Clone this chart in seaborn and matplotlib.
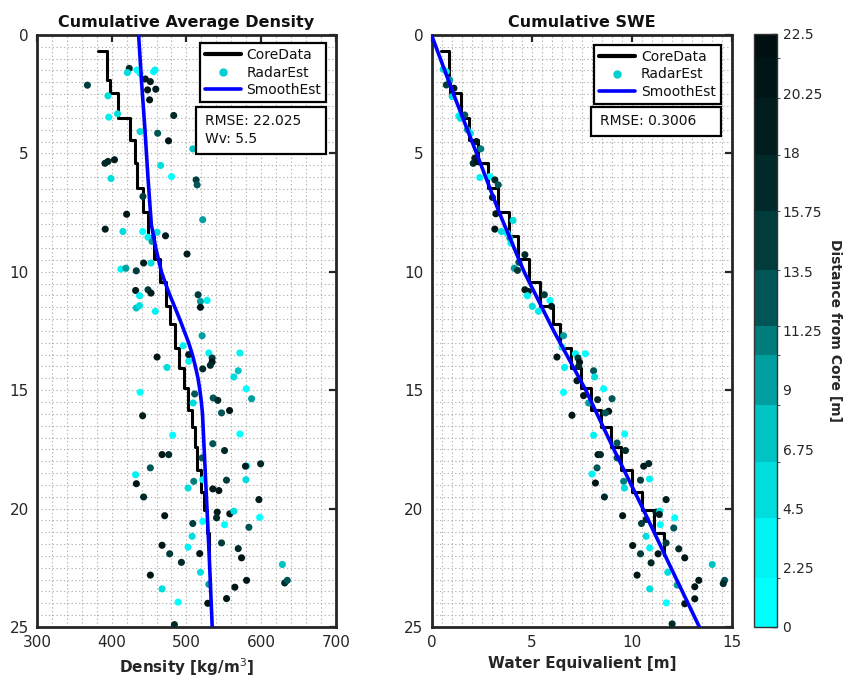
import matplotlib
matplotlib.use('Agg')
import matplotlib.pyplot as plt
import numpy as np
import seaborn as sns
from matplotlib.colors import ListedColormap, BoundaryNorm
from matplotlib.cm import ScalarMappable
from matplotlib.lines import Line2D
from matplotlib.patches import Rectangle
from matplotlib.ticker import MultipleLocator

# core samples: depth of each step and the value held below it (first entry = starting value)
core_depth = [0.66, 1.9, 2.43, 3.52, 4.43, 5.42, 6.47, 7.49, 8.5, 9.47, 10.42, 11.44,
              12.2, 13.2, 14.08, 14.92, 15.84, 16.54, 17.39, 18.37, 19.29, 20.06, 21.04, 21.96]
core_density = [382, 394, 398, 408, 424, 431, 434, 442, 449, 457, 465, 472,
                 478, 485, 490, 497, 502, 507, 511, 514, 519, 523, 527, 530]
core_swe = [0.45, 0.87, 0.9, 1.45, 1.88, 2.3, 2.8, 3.3, 3.86, 4.33, 4.85, 5.42,
            6.05, 6.43, 6.95, 7.45, 7.95, 8.45, 8.95, 9.45, 10.03, 10.53, 11.12, 11.62]

# smoothed estimates
smooth_depth_l = [0, 2, 4, 6, 8, 9, 10, 10.5, 11, 11.5, 12, 12.5, 13, 13.5, 14, 14.5,
                  15, 15.5, 16, 17, 18, 19, 20, 22, 25]
smooth_density = [436, 440, 444.5, 448.5, 453, 459, 466.5, 472, 478, 484.5, 491, 497,
                  503, 508, 512, 515.5, 518, 520, 521.5, 523, 524.5, 526, 527.5, 530.5, 534.5]
smooth_depth_r = [0, 2.5, 5, 7.5, 10, 12.5, 15, 17.5, 20, 22.5, 25]
smooth_swe = [0, 1.1, 2.25, 3.38, 4.62, 6.1, 7.7, 9.1, 10.55, 11.95, 13.37]

# radar estimates, left panel (density)
radar_density = [423.5, 421, 433.8, 438, 445, 451.7, 456, 458, 367.5, 448, 459, 450.7, 395, 407.8,
                 396, 483, 438, 461.5, 476, 508.5, 391, 395, 403.7, 465.5, 399, 480, 513, 514.3,
                 441.8, 521.8, 420, 391.3, 415, 441.4, 460.7, 448.6, 454, 472, 500.8, 442.7, 452.6,
                 412.3, 419, 432.9, 432, 437.3, 448.6, 452.6, 515.6, 518.7, 527.7, 518.7, 432.9,
                 437.3, 458.4, 521, 495.5, 460.7, 503, 503, 474, 530, 534.4, 534.4, 532, 521.8,
                 571.5, 569.3, 563.5, 580, 587.2, 438, 511, 509, 535.8, 542, 547, 557.7, 441.4,
                 481.6, 571.5, 535.3, 551, 467.4, 476.3, 521, 451.7, 581, 579, 599.3, 432, 433,
                 509.8, 521.8, 553.6, 579.6, 502.2, 535.3, 543.4, 442.7, 597, 470.9, 541.2, 558,
                 563.5, 540.3, 508.5, 521.8, 551, 598, 583.6, 507.6, 467.4, 547, 502.2, 569.3,
                 477.6, 517.8, 573.8, 493.3, 628.4, 451.7, 518.8, 580.5, 631.5, 635, 530, 467.4,
                 564.8, 553.7, 488.8, 528.6, 483.9]
radar_depth_l = [1.41, 1.59, 1.48, 1.62, 1.86, 1.97, 1.55, 1.48, 2.12, 2.32, 2.29, 2.74, 2.57, 3.33,
                 3.47, 3.40, 4.08, 4.15, 4.47, 4.81, 5.42, 5.34, 5.27, 5.51, 6.06, 5.98, 6.12, 6.33,
                 6.82, 7.80, 7.57, 8.2, 8.3, 8.3, 8.33, 8.54, 8.72, 8.48, 9.25, 9.63, 9.63,
                 9.89, 9.85, 9.96, 10.79, 11.01, 10.76, 10.9, 10.97, 11.25, 11.21, 11.5, 11.53,
                 11.43, 11.67, 12.7, 13.12, 13.6, 13.5, 13.78, 14.04, 13.43, 13.64, 13.81, 13.95, 14.1,
                 13.43, 14.18, 14.44, 14.94, 15.36, 15.09, 15.16, 15.54, 15.33, 15.43, 15.96, 15.86, 16.08,
                 16.9, 16.85, 17.26, 17.55, 17.72, 17.72, 17.86, 18.28, 18.2, 18.21, 18.11, 18.57, 18.95,
                 18.85, 18.78, 18.8, 18.78, 19.13, 19.17, 19.24, 19.51, 19.62, 20.3, 20.15, 20.22,
                 20.11, 20.39, 20.63, 20.54, 20.68, 20.37, 20.79, 21.17, 21.55, 21.45, 21.63, 21.69,
                 21.91, 21.9, 22.08, 22.27, 22.36, 22.81, 22.69, 23.03, 23.14, 23.03, 23.2, 23.39,
                 23.32, 23.8, 23.95, 24.0, 24.9]
radar_dist_l = [16, 5, 1, 1, 19, 18, 1, 2, 15, 21, 20, 21, 5, 6,
                2, 16, 5, 12, 21, 7, 16, 17, 20, 5, 6, 1, 14, 12,
                14, 10, 21, 20, 6, 1, 5, 4, 10, 20, 18, 19, 6,
                2, 10, 15, 19, 2, 15, 20, 15, 10, 2, 21, 7,
                5, 2, 10, 2, 21, 20, 2, 6, 3, 15, 21, 16, 17,
                2, 7, 5, 1, 10, 1, 12, 5, 12, 17, 12, 21, 20,
                1, 1, 12, 17, 21, 16, 12, 13, 1, 20, 16, 3, 21,
                11, 3, 14, 5, 5, 20, 21, 17, 18, 21, 20, 19,
                5, 17, 15, 1, 1, 1, 12, 6, 21, 15, 2, 16,
                14, 21, 21, 16, 7, 21, 5, 21, 17, 12, 10, 6,
                21, 21, 1, 21, 16]

# radar estimates, right panel (SWE)
radar_swe = [0.58, 0.74, 0.91, 0.74, 1.03, 1.12, 1.36, 1.44, 1.66, 1.79, 1.94, 2.24, 2.46, 2.16,
             2.08, 2.29, 2.41, 2.91, 3.16, 3.33, 3.04, 3.21, 4.07, 3.16, 3.49, 3.78, 3.91, 3.96,
             4.66, 4.36, 4.13, 4.29, 4.66, 4.83, 4.78, 5.63, 5.91, 5.99, 5.03, 5.33, 6.59, 6.51,
             6.26, 7.18, 7.68, 7.31, 7.39, 7.34, 6.64, 8.09, 8.14, 7.26, 8.59, 6.59, 7.59, 7.84,
             8.29, 9.01, 8.84, 8.68, 7.01, 8.09, 9.64, 9.26, 9.68, 8.31, 8.43, 9.26, 8.26, 8.01,
             8.18, 9.59, 9.63, 8.63, 10.59, 10.84, 10.43, 10.88, 11.71, 9.54, 10.48, 10.71, 11.21,
             11.39, 11.37, 11.42, 10.71, 12.14, 12.09, 10.04, 10.89, 11.71, 10.43, 11.31, 12.34,
             12.64, 10.96, 11.79, 14.01, 10.26, 13.34, 14.63, 14.56, 13.14, 12.26, 10.89, 13.14,
             12.64, 11.72, 12.01]
radar_depth_r = [1.45, 1.55, 1.9, 2.11, 2.6, 2.25, 3.42, 3.52, 3.38, 4.0, 4.15, 4.5, 4.81, 5.2,
                 5.42, 5.35, 6.02, 5.98, 6.12, 6.33, 6.86, 7.55, 7.83, 8.2, 8.3, 8.37, 8.58, 8.79,
                 9.28, 9.6, 9.85, 9.94, 10.76, 10.83, 11.01, 10.97, 11.21, 11.46, 11.46, 11.67, 12.7,
                 13.18, 13.6, 13.46, 13.46, 13.64, 13.82, 14.0, 14.04, 14.18, 14.44, 14.6, 14.94,
                 15.09, 15.23, 15.54, 15.4, 15.36, 15.89, 15.96, 16.06, 16.9, 16.85, 17.23, 17.55,
                 17.72, 17.72, 17.86, 18.28, 18.54, 18.92, 18.85, 19.13, 19.51, 18.21, 18.1, 18.8,
                 18.75, 19.62, 20.3, 20.63, 20.46, 20.15, 20.11, 20.25, 20.68, 21.17, 20.39, 20.82,
                 21.56, 21.66, 21.45, 21.91, 21.91, 21.7, 22.08, 22.29, 22.69, 22.36, 22.81, 23.03,
                 23.03, 23.17, 23.3, 23.23, 23.39, 23.81, 24.02, 23.98, 24.87]
radar_dist_r = [5, 2, 10, 15, 5, 18, 2, 5, 12, 10, 5, 21, 11, 20,
                17, 21, 2, 1, 16, 12, 20, 21, 5, 21, 5, 2, 10, 2,
                17, 12, 10, 15, 20, 20, 2, 15, 1, 21, 6, 2, 10, 2,
                21, 3, 1, 14, 21, 17, 2, 12, 5, 20, 1, 1, 21, 10,
                17, 12, 21, 12, 21, 2, 1, 12, 17, 21, 16, 12, 13, 3,
                21, 11, 5, 17, 20, 16, 14, 3, 18, 21, 15, 17, 20,
                5, 19, 1, 6, 1, 12, 21, 2, 15, 14, 21, 16,
                21, 16, 5, 7, 21, 21, 12, 17, 21, 10, 6, 21,
                21, 1, 16]

# discrete colour map
cbar_bounds = [0, 1.84, 4.12, 6.27, 8.43, 10.33, 11.43, 13.55, 15.77, 17.92, 20.08, 21.6, 22.5]
cbar_colors = ['#00ffff', '#00f3f3', '#00dddd', '#00c4c4', '#009e9e', '#007c7c',
               '#005656', '#003c3c', '#002a2a', '#001c1c', '#001515', '#000f0f']
cbar_ticks = [0, 2.25, 4.5, 6.75, 9, 11.25, 13.5, 15.75, 18, 20.25, 22.5]
cbar_ticklabels = ['0', '2.25', '4.5', '6.75', '9', '11.25', '13.5', '15.75', '18', '20.25', '22.5']

cmap = ListedColormap(cbar_colors)
norm = BoundaryNorm(cbar_bounds, cmap.N)

sns.set_style('white')
plt.rcParams['font.family'] = ['DejaVu Sans']
plt.rcParams['text.color'] = '#111111'

fig = plt.figure(figsize=(8.54, 6.79), dpi=100)
ax_l = fig.add_axes([0.0433, 0.0766, 0.350, 0.8719])
ax_r = fig.add_axes([0.5053, 0.0766, 0.3519, 0.8719])
cax = fig.add_axes([0.8829, 0.0766, 0.0269, 0.8734])


def style_axes(ax, xlim, xmajor, xminor, xlabel, title):
    ax.set_xlim(*xlim)
    ax.set_ylim(25, 0)
    ax.xaxis.set_major_locator(MultipleLocator(xmajor))
    ax.xaxis.set_minor_locator(MultipleLocator(xminor))
    ax.yaxis.set_major_locator(MultipleLocator(5))
    ax.yaxis.set_minor_locator(MultipleLocator(0.5))
    ax.grid(True, which='both', linestyle=(0, (1.2, 2.2)), color='#b4b4b4', linewidth=0.8)
    ax.set_axisbelow(True)
    ax.tick_params(which='major', direction='in', length=5, width=1.6, top=True, right=True,
                   labelsize=11, colors='#262626', pad=6)
    ax.tick_params(which='minor', length=0)
    for sp in ax.spines.values():
        sp.set_linewidth(2)
        sp.set_color('#262626')
    ax.set_xlabel(xlabel, fontsize=11, fontweight='bold', labelpad=4)
    ax.set_ylabel('')
    ax.set_title(title, fontsize=11.5, fontweight='bold', pad=6)


def draw_panel(ax, core_x, smooth_depth, smooth_x, radar_x, radar_depth, radar_dist):
    ax.plot(core_x, core_depth, color='black', linewidth=2.2, drawstyle='steps-post', zorder=3)
    sns.scatterplot(x=radar_x, y=radar_depth, hue=radar_dist, palette=cmap, hue_norm=norm,
                    s=26, linewidth=0, legend=False, ax=ax, zorder=4)
    sns.lineplot(x=smooth_x, y=smooth_depth, sort=False, estimator=None, color='#0000ff',
                 linewidth=2.6, ax=ax, zorder=5)


draw_panel(ax_l, core_density, smooth_depth_l, smooth_density,
           radar_density, radar_depth_l, radar_dist_l)
draw_panel(ax_r, core_swe, smooth_depth_r, smooth_swe,
           radar_swe, radar_depth_r, radar_dist_r)

style_axes(ax_l, (300, 700), 100, 20, 'Density [kg/m$^3$]', 'Cumulative Average Density')
style_axes(ax_r, (0, 15), 5, 0.5, 'Water Equivalient [m]', 'Cumulative SWE')

handles = [Line2D([], [], color='black', linewidth=3),
           Line2D([], [], color='#00d0d0', marker='o', linestyle='none', markersize=5),
           Line2D([], [], color='#0000ff', linewidth=2.6)]
labels = ['CoreData', 'RadarEst', 'SmoothEst']

for ax, anchor, box, lines in [
        (ax_l, (0.967, 0.986), (0.532, 0.799, 0.435, 0.079), ['RMSE: 22.025', 'Wv: 5.5']),
        (ax_r, (0.962, 0.983), (0.531, 0.829, 0.431, 0.049), ['RMSE: 0.3006'])]:
    leg = ax.legend(handles, labels, loc='upper right', bbox_to_anchor=anchor, borderaxespad=0,
                    fontsize=10, frameon=True, fancybox=False, framealpha=1, edgecolor='black',
                    handlelength=2.6, handletextpad=0.4, labelspacing=0.25, borderpad=0.35)
    leg.get_frame().set_linewidth(1.6)
    leg.set_zorder(10)
    ax.add_patch(Rectangle(box[:2], box[2], box[3], transform=ax.transAxes, facecolor='white',
                           edgecolor='black', linewidth=1.6, zorder=10))
    ax.text(box[0] + 0.03, box[1] + box[3] - 0.012, '\n'.join(lines), transform=ax.transAxes,
            ha='left', va='top', fontsize=10, linespacing=1.35, zorder=11)

cb = fig.colorbar(ScalarMappable(norm=norm, cmap=cmap), cax=cax, spacing='proportional',
                  ticks=cbar_ticks)
cb.ax.set_yticklabels(cbar_ticklabels)
cb.ax.tick_params(direction='in', length=4, width=1, labelsize=10, colors='#262626', pad=4)
cb.outline.set_linewidth(1)
cb.outline.set_edgecolor('#333333')
cb.set_label('Distance from Core [m]', rotation=270, fontsize=10, fontweight='bold', labelpad=14)

fig.savefig('out.png', dpi=100, facecolor='white')
plt.close(fig)
